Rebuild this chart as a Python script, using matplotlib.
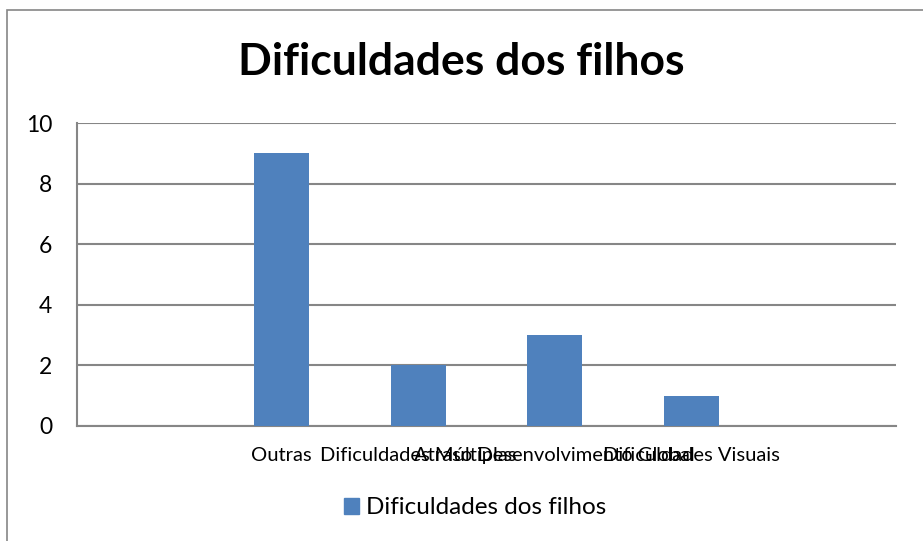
import matplotlib.pyplot as plt
from matplotlib.patches import Rectangle, Patch

# dados do grafico (primeira e ultima categoria vazias)
categorias = ["", "Outras", "Dificuldades Múltiplas", "Atraso Desenvolvimento Global",
              "Dificuldades Visuais", ""]
valores = [0, 9, 2, 3, 1, 0]
serie = "Dificuldades dos filhos"
yticks = [0, 2, 4, 6, 8, 10]

azul = '#4F81BD'
cinza = '#868686'

plt.rcParams['font.family'] = ['Lato', 'DejaVu Sans']

fig = plt.figure(figsize=(9.23, 5.41), dpi=100)
ax = fig.add_axes([77/923, 1 - 426/541, (896 - 77)/923, (426 - 123)/541])

x = list(range(len(categorias)))
ax.bar(x, valores, width=0.4, color=azul, zorder=3)

ax.set_xlim(-0.5, len(categorias) - 0.5)
ax.set_ylim(0, 10)
ax.set_yticks(yticks)
ax.set_xticks(x)
ax.set_xticklabels(categorias, fontsize=14.5)
ax.tick_params(axis='y', labelsize=16.5, length=0, pad=18)
ax.tick_params(axis='x', length=0, pad=15)
ax.grid(axis='y', color=cinza, linewidth=1.5, zorder=0)

for s in ['top', 'right']:
    ax.spines[s].set_visible(False)
for s in ['left', 'bottom']:
    ax.spines[s].set_color(cinza)
    ax.spines[s].set_linewidth(1.5)

fig.text(0.5, 1 - 62/541, serie, fontsize=32, fontweight='bold',
         ha='center', va='center')

fig.legend(handles=[Patch(color=azul, label=serie)], loc='center',
           bbox_to_anchor=(0.515, 1 - 508/541), frameon=False, fontsize=17.5,
           handlelength=0.6, handleheight=0.6, handletextpad=0.3)

# moldura externa do grafico
fig.patches.append(Rectangle((7/923, -0.1), 1.2, 1.1 - 10/541,
                             transform=fig.transFigure, fill=False,
                             edgecolor=cinza, linewidth=1.2))

fig.savefig('out.png', dpi=100)
